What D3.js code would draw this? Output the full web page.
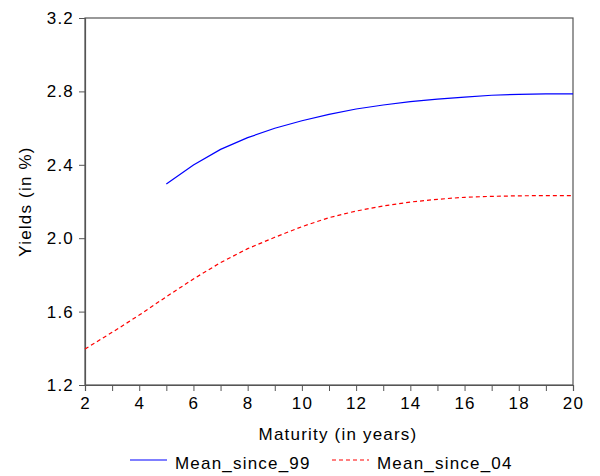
<!DOCTYPE html>
<html>
<head>
<meta charset="utf-8">
<script src="https://cdn.jsdelivr.net/npm/d3@7"></script>
<style>
  body { margin: 0; background: #fff; }
  text { font-family: "Liberation Sans", Arial, sans-serif; fill: #000; letter-spacing: 1.2px; }
</style>
</head>
<body>
<div id="chart"></div>
<script>
'use strict';
// maturities in years
const maturities = [2, 3, 4, 5, 6, 7, 8, 9, 10, 11, 12, 13, 14, 15, 16, 17, 18, 19, 20];
// mean yields since 99 (starts at 5 years)
const meanSince99 = [null, null, null, 2.295, 2.399, 2.484, 2.548, 2.599, 2.640, 2.675, 2.704, 2.726, 2.744, 2.758, 2.769, 2.779, 2.784, 2.787, 2.787];
// mean yields since 04
const meanSince04 = [1.396, 1.487, 1.581, 1.681, 1.778, 1.867, 1.943, 2.005, 2.063, 2.112, 2.148, 2.176, 2.197, 2.212, 2.223, 2.228, 2.231, 2.232, 2.232];
const xTicks = [2, 4, 6, 8, 10, 12, 14, 16, 18, 20];
const xMinorTicks = [3, 5, 7, 9, 11, 13, 15, 17, 19];
const yTicks = [1.2, 1.6, 2.0, 2.4, 2.8, 3.2];
const seriesNames = ["Mean_since_99", "Mean_since_04"];

const W = 600, H = 476;
const margin = {top: 18, right: 27, bottom: 91, left: 85};
const width = W - margin.left - margin.right,
      height = H - margin.top - margin.bottom;

const svg = d3.select("#chart").append("svg")
    .attr("width", W)
    .attr("height", H);

const g = svg.append("g")
    .attr("transform", "translate(" + margin.left + "," + margin.top + ")");

const x = d3.scaleLinear().domain([2, 20]).range([0, width]);
const y = d3.scaleLinear().domain([1.2, 3.2]).range([height, 0]);

// frame
g.append("rect")
    .attr("width", width)
    .attr("height", height)
    .attr("fill", "none")
    .attr("stroke", "#555")
    .attr("stroke-width", 1.2);

// x axis
g.append("g")
    .attr("transform", "translate(0," + height + ")")
    .call(d3.axisBottom(x).tickValues(xTicks).tickFormat(d3.format("d")).tickSize(6).tickPadding(6));
g.append("g")
    .attr("transform", "translate(0," + height + ")")
    .call(d3.axisBottom(x).tickValues(xMinorTicks).tickFormat("").tickSize(6))
    .select(".domain").remove();

// y axis
g.append("g")
    .call(d3.axisLeft(y).tickValues(yTicks).tickFormat(d3.format(".1f")).tickSize(6).tickPadding(5));

g.selectAll(".domain").attr("stroke", "#555").attr("stroke-width", 1.2);
g.selectAll(".tick line").attr("stroke", "#555");
g.selectAll(".tick text").style("font-size", "17px").attr("fill", "#000");

// axis titles
svg.append("text")
    .attr("x", 338)
    .attr("y", 440)
    .attr("text-anchor", "middle")
    .style("font-size", "17px")
    .text("Maturity (in years)");

svg.append("text")
    .attr("transform", "translate(31," + (margin.top + height / 2) + ") rotate(-90)")
    .attr("text-anchor", "middle")
    .style("font-size", "17px")
    .text("Yields (in %)");

// lines
const line = d3.line()
    .defined(function(d) { return d[1] !== null; })
    .x(function(d) { return x(d[0]); })
    .y(function(d) { return y(d[1]); });

g.append("path")
    .datum(maturities.map(function(m, i) { return [m, meanSince99[i]]; }))
    .attr("fill", "none")
    .attr("stroke", "#0000ff")
    .attr("stroke-width", 1.2)
    .attr("d", line);

g.append("path")
    .datum(maturities.map(function(m, i) { return [m, meanSince04[i]]; }))
    .attr("fill", "none")
    .attr("stroke", "#ff0000")
    .attr("stroke-width", 1.2)
    .attr("stroke-dasharray", "4,3")
    .attr("d", line);

// legend
const legend = svg.append("g");
const legendItems = [
  {name: seriesNames[0], color: "#0000ff", dash: null, x0: 130},
  {name: seriesNames[1], color: "#ff0000", dash: "4,3", x0: 332}
];
legendItems.forEach(function(it) {
  legend.append("line")
      .attr("x1", it.x0).attr("x2", it.x0 + 37)
      .attr("y1", 460).attr("y2", 460)
      .attr("stroke", it.color)
      .attr("stroke-width", 1.2)
      .attr("stroke-dasharray", it.dash);
  legend.append("text")
      .attr("x", it.x0 + 45)
      .attr("y", 469)
      .style("font-size", "17px")
      .text(it.name);
});
</script>
</body>
</html>
